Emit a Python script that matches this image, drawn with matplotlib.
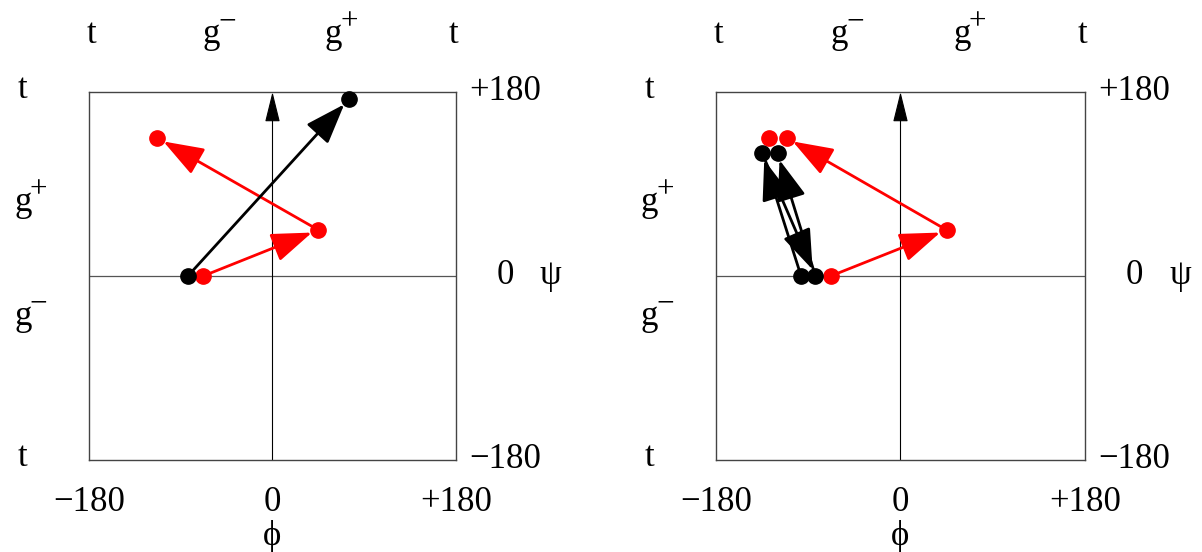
import matplotlib
matplotlib.use("Agg")
import matplotlib.pyplot as plt

plt.rcParams['font.family'] = ['Liberation Serif', 'DejaVu Serif']

# phi / psi paths (degrees)
# left panel
l_red_phi = [-68, 45, -113]
l_red_psi = [0, 45, 135]
l_blk_phi = [-83, 75]
l_blk_psi = [0, 173]
# right panel
r_red_phi = [-68, 45, -111]
r_red_psi = [0, 45, 135]
r_red_extra_phi = [-128]
r_red_extra_psi = [135]
r_blk_phi = [-97, -135, -83, -120]
r_blk_psi = [0, 120, 0, 120]

tick_vals = [-180, 0, 180]
tick_txt = ['\u2212180', '0', '+180']
top_pos = [-178, -60, 60, 178]
top_sup = ['', '\u2212', '+', '']
side_pos = [182, 72, -40, -178]
side_sup = ['', '+', '\u2212', '']

FS = 25


def label(ax, x, y, sup):
    txt = 't' if sup == '' else 'g'
    ax.text(x, y, txt, fontsize=FS, ha='center', va='center', clip_on=False)
    if sup:
        ax.annotate(sup, xy=(x, y), xytext=(FS * 0.2, FS * 0.36),
                    textcoords='offset points', fontsize=FS * 0.9,
                    ha='left', va='center', annotation_clip=False)


def path(ax, phi, psi, color):
    for i in range(len(phi) - 1):
        ax.annotate('', xy=(phi[i + 1], psi[i + 1]), xytext=(phi[i], psi[i]),
                    arrowprops=dict(arrowstyle='-|>,head_length=1.25,head_width=0.45',
                                    mutation_scale=20, lw=2, color=color,
                                    shrinkA=0, shrinkB=5),
                    annotation_clip=False, zorder=3)
    ax.plot(phi, psi, 'o', ms=11, color=color, ls='none', zorder=4, clip_on=False)


def panel(ax):
    ax.set_xlim(-180, 180)
    ax.set_ylim(-180, 180)
    ax.set_xticks([])
    ax.set_yticks([])
    for s in ax.spines.values():
        s.set_color('#444444')
        s.set_linewidth(1.0)
    ax.axhline(0, color='#555555', lw=0.9, zorder=1)
    ax.annotate('', xy=(0, 180), xytext=(0, -180),
                arrowprops=dict(arrowstyle='-|>,head_length=1.9,head_width=0.47',
                                mutation_scale=10, lw=0.8, color='black',
                                shrinkA=0, shrinkB=0),
                annotation_clip=False, zorder=1)
    for p, s in zip(top_pos, top_sup):
        label(ax, p, 236, s)
    for p, s in zip(side_pos, side_sup):
        label(ax, -245, p, s)
    for v, t in zip(tick_vals, tick_txt):
        ax.text(228, v, t, fontsize=FS, ha='center', va='center', clip_on=False)
        ax.text(v, -222, t, fontsize=FS, ha='center', va='center', clip_on=False)
    ax.text(273, 0, '\u03c8', fontsize=FS, ha='center', va='center', clip_on=False)
    ax.text(0, -255, '\u03d5', fontsize=FS, ha='center', va='center', clip_on=False)


fig = plt.figure(figsize=(12.02, 5.52), dpi=100)
ax1 = fig.add_axes([89 / 1202, 92 / 552, 367 / 1202, 368 / 552])
ax2 = fig.add_axes([716 / 1202, 92 / 552, 369 / 1202, 368 / 552])

panel(ax1)
path(ax1, l_red_phi, l_red_psi, 'red')
path(ax1, l_blk_phi, l_blk_psi, 'black')

panel(ax2)
path(ax2, r_red_phi, r_red_psi, 'red')
ax2.plot(r_red_extra_phi, r_red_extra_psi, 'o', ms=11, color='red', zorder=4)
path(ax2, r_blk_phi, r_blk_psi, 'black')

fig.savefig('out.png', dpi=100)
